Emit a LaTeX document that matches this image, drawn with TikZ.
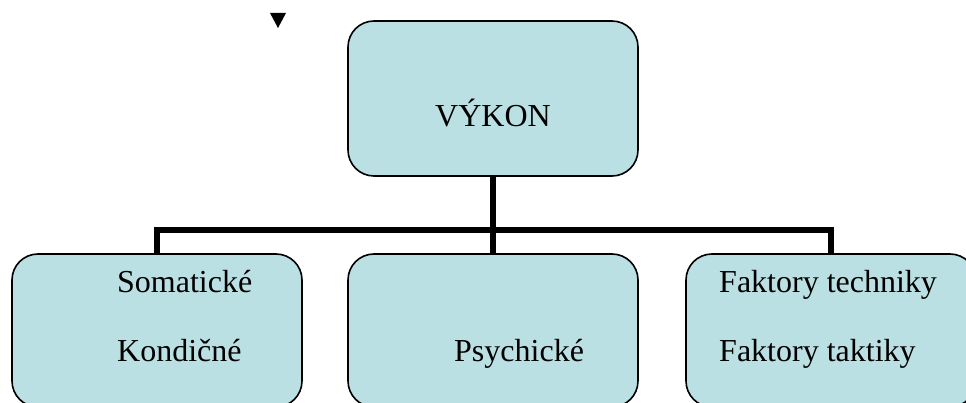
\documentclass[tikz,border=0pt]{standalone}
\usepackage{fontspec}
\setmainfont{Liberation Serif}
\definecolor{boxfill}{RGB}{187,224,227}
\tikzset{
  box/.style={draw=black, line width=1.6pt, fill=boxfill, rounded corners=26pt,
    minimum width=290pt, inner sep=0pt, outer sep=0pt},
  txt/.style={anchor=base west, inner sep=0pt, font=\fontsize{32}{38}\selectfont},
  ctxt/.style={anchor=base, inner sep=0pt, font=\fontsize{32}{38}\selectfont},
  conn/.style={draw=black, line width=5.5pt, line join=miter},
  trunk/.style={draw=black, line width=6.5pt}
}
\begin{document}
\begin{tikzpicture}[x=1pt, y=-1pt]
\useasboundingbox (0,0) rectangle (966,403);
\clip (0,0) rectangle (966,403);
% boxes
\node[box, minimum height=155pt] (top) at (493,98.5) {};
\node[box, minimum height=153pt] (b1) at (157,330.5) {};
\node[box, minimum height=153pt] (b2) at (493,330.5) {};
\node[box, minimum height=153pt] (b3) at (831,330.5) {};
% bar level
\coordinate (bar) at (0,230);
% connectors
\draw[trunk] (top.south) -- (top.south |- bar);
\draw[conn] (b1.north) -- (b1.north |- bar) -- (b3.north |- bar) -- (b3.north);
\draw[conn] (b2.north) -- (b2.north |- bar);
% texts
\node[ctxt] (t0) at (493,127) {VÝKON};
\node[txt] (s1) at (117,292) {Somatické};
\node[txt] (s2) at (117,361) {Kondičné};
\node[txt] (p1) at (454,361) {Psychické};
\node[txt] (f1) at (719,292) {Faktory techniky};
\node[txt] (f2) at (719,361) {Faktory taktiky};
% small triangle marker
\fill[black] (270,13) -- (286,13) -- (278,28) -- cycle;
\end{tikzpicture}
\end{document}
